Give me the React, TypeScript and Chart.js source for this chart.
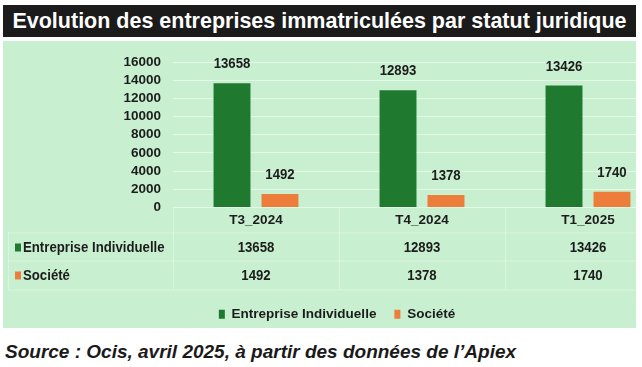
import React, { useEffect, useRef } from "react";
import { Chart, registerables } from "chart.js";

Chart.register(...registerables);

const TITLE = "Evolution des entreprises immatriculées par statut juridique";
const SOURCE = "Source : Ocis, avril 2025, à partir des données de l’Apiex";
const categories = ["T3_2024", "T4_2024", "T1_2025"];
const seriesNames = ["Entreprise Individuelle", "Société"];
const entrepriseIndividuelle = [13658, 12893, 13426];
const societe = [1492, 1378, 1740];
const yTicks = [0, 2000, 4000, 6000, 8000, 10000, 12000, 14000, 16000];

const GREEN = "#1f7a30";
const ORANGE = "#ed7d3b";
const PANEL = "#c8efcf";
const TEXT = "#1c1c1c";
const FONT = "'Liberation Sans', Arial, sans-serif";
const FSIZE = 13.5;
const GRID = "rgba(240,252,242,0.7)";
const TABLE_LINE = "rgba(240,252,242,0.45)";

function drawNarrow(ctx: any, text: string, x: number, y: number, align: string) {
  // text drawn with a slight horizontal condensing, like the narrow source font
  const sx = 0.88;
  ctx.save();
  ctx.translate(x, y);
  ctx.scale(sx, 1);
  ctx.textAlign = align;
  ctx.fillText(text, 0, 0);
  ctx.restore();
}

const valueLabels = {
  id: "valueLabels",
  afterDatasetsDraw(chart: any) {
    const ctx = chart.ctx;
    ctx.save();
    ctx.font = `bold 15px ${FONT}`;
    ctx.fillStyle = TEXT;
    ctx.textBaseline = "middle";
    chart.data.datasets.forEach((ds: any, di: number) => {
      const meta = chart.getDatasetMeta(di);
      meta.data.forEach((el: any, i: number) => {
        drawNarrow(ctx, String(ds.data[i]), el.x, el.y - 19, "center");
      });
    });
    ctx.restore();
  },
};

const dataTable = {
  id: "dataTable",
  afterDraw(chart: any) {
    const ctx = chart.ctx;
    const xs = chart.scales.x;
    const bottom = chart.chartArea.bottom;
    const left = chart.chartArea.left;
    const right = chart.chartArea.right;
    const n = chart.data.labels.length;
    const step = (right - left) / n;
    ctx.save();
    ctx.strokeStyle = TABLE_LINE;
    ctx.lineWidth = 1;
    [25, 53, 82].forEach((dy) => {
      ctx.beginPath();
      ctx.moveTo(5, bottom + dy + 0.5);
      ctx.lineTo(right, bottom + dy + 0.5);
      ctx.stroke();
    });
    for (let k = 0; k <= n; k++) {
      const x = Math.round(left + k * step) + 0.5;
      ctx.beginPath();
      ctx.moveTo(x, bottom);
      ctx.lineTo(x, bottom + 82);
      ctx.stroke();
    }
    ctx.beginPath();
    ctx.moveTo(5.5, bottom + 25);
    ctx.lineTo(5.5, bottom + 82);
    ctx.stroke();

    ctx.font = `bold 15px ${FONT}`;
    ctx.textBaseline = "middle";
    const rows = [40, 68];
    chart.data.datasets.forEach((ds: any, di: number) => {
      const y = bottom + rows[di];
      ctx.fillStyle = ds.backgroundColor;
      ctx.fillRect(12, y - 4, 6, 8);
      ctx.fillStyle = TEXT;
      drawNarrow(ctx, ds.label, 20, y, "left");
      ds.data.forEach((v: number, i: number) => {
        drawNarrow(ctx, String(v), xs.getPixelForValue(i), y, "center");
      });
    });
    ctx.restore();
  },
};

export default function App() {
  const ref = useRef<HTMLCanvasElement | null>(null);

  useEffect(() => {
    if (!ref.current) return;
    const chart = new Chart(ref.current, {
      type: "bar",
      data: {
        labels: categories,
        datasets: [
          {
            label: seriesNames[0],
            data: entrepriseIndividuelle,
            backgroundColor: GREEN,
            categoryPercentage: 0.578,
            barPercentage: 0.77,
          },
          {
            label: seriesNames[1],
            data: societe,
            backgroundColor: ORANGE,
            categoryPercentage: 0.578,
            barPercentage: 0.77,
          },
        ],
      },
      options: {
        animation: false,
        responsive: true,
        maintainAspectRatio: false,
        layout: { padding: { top: 21, left: 0, right: 0, bottom: 0 } },
        plugins: {
          tooltip: { enabled: false },
          title: { display: false },
          legend: {
            display: true,
            position: "bottom",
            labels: {
              boxWidth: 6,
              boxHeight: 9,
              padding: 18,
              color: TEXT,
              font: { family: FONT, size: FSIZE, weight: "bold" },
            },
          },
        },
        scales: {
          x: {
            grid: { display: false, drawTicks: false },
            border: { display: false },
            ticks: {
              color: TEXT,
              padding: 5,
              font: { family: FONT, size: FSIZE, weight: "bold" },
            },
            afterFit(scale: any) {
              scale.height = 82;
            },
          },
          y: {
            min: 0,
            max: 16000,
            afterBuildTicks(scale: any) {
              scale.ticks = yTicks.map((v) => ({ value: v }));
            },
            grid: { color: GRID, drawTicks: false, lineWidth: 1 },
            border: { display: false },
            ticks: {
              color: TEXT,
              padding: 12,
              autoSkip: false,
              callback: (v: any) => String(v),
              font: { family: FONT, size: FSIZE, weight: "bold" },
            },
            afterFit(scale: any) {
              scale.width = 170;
            },
          },
        },
      },
      plugins: [valueLabels, dataTable],
    });
    return () => chart.destroy();
  }, []);

  return (
    <div
      style={{
        position: "fixed",
        left: 0,
        top: 0,
        width: 642,
        height: 367,
        background: "#ffffff",
        overflow: "hidden",
      }}
    >
      <div
        style={{
          position: "absolute",
          left: 3,
          top: 5,
          width: 633,
          height: 32,
          background: "#1b1b1b",
          color: "#ffffff",
          fontFamily: "'Liberation Sans', Arial, sans-serif",
          fontWeight: "bold",
          fontSize: 21.5,
          lineHeight: "32px",
          textAlign: "center",
          whiteSpace: "nowrap",
        }}
      >
        {TITLE}
      </div>
      <div
        style={{
          position: "absolute",
          left: 3,
          top: 41,
          width: 633,
          height: 287,
          background: PANEL,
          overflow: "hidden",
        }}
      >
        <div style={{ position: "absolute", left: 0, top: 0, width: 668, height: 290 }}>
          <canvas ref={ref} />
        </div>
      </div>
      <div
        style={{
          position: "absolute",
          left: 5,
          top: 338,
          color: "#1a1a1a",
          fontFamily: "'Liberation Sans', Arial, sans-serif",
          fontWeight: "bold",
          fontStyle: "italic",
          fontSize: 19,
          lineHeight: "28px",
          whiteSpace: "nowrap",
        }}
      >
        {SOURCE}
      </div>
    </div>
  );
}
